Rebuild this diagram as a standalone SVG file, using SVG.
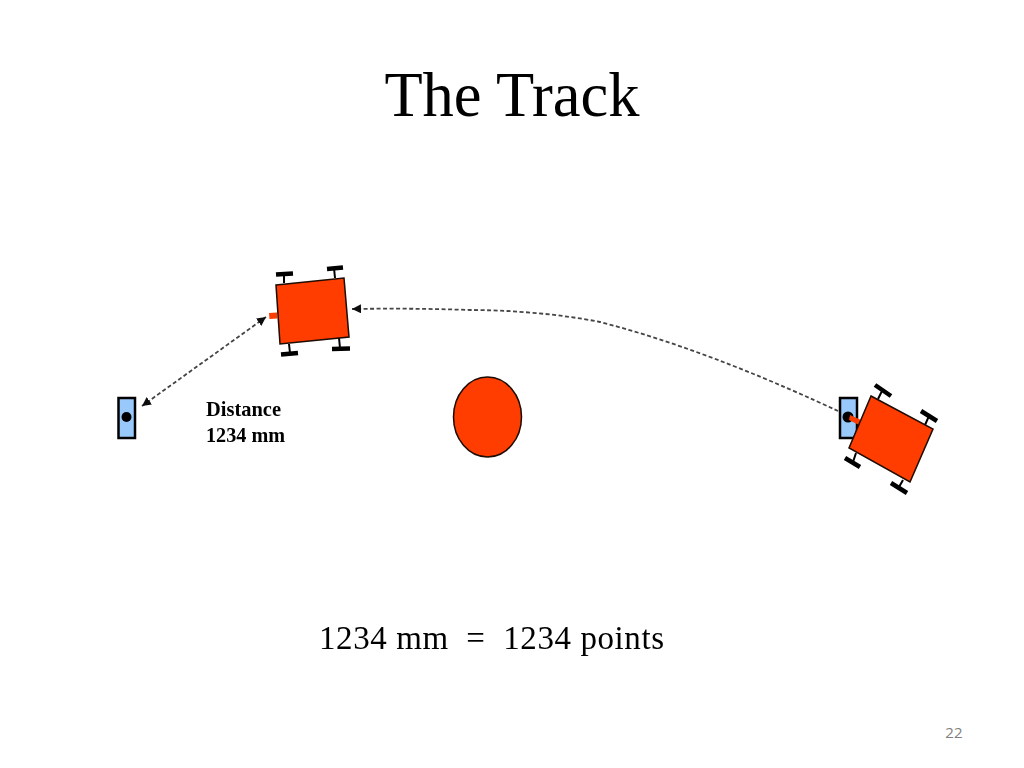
<svg xmlns="http://www.w3.org/2000/svg" width="1024" height="768" viewBox="0 0 1024 768">
<style>
.body{fill:#ff3c00;stroke:#1a0a00;stroke-width:1.5}
.nub{fill:#ff3c00}
.stem{stroke:#000;stroke-width:2;fill:none}
.bar{stroke:#000;stroke-width:4.5;fill:none}
.beacon{fill:#99c9fb;stroke:#000;stroke-width:2.5}
.dash{stroke:#444;stroke-width:1.8;stroke-dasharray:4 2.500;fill:none}
.serif{font-family:"Liberation Serif","Times New Roman",serif;fill:#000}
</style>
<defs>
<filter id="soft" x="-5%" y="-5%" width="110%" height="110%"><feGaussianBlur stdDeviation="0.5"/></filter>
<filter id="softtext" x="-5%" y="-20%" width="110%" height="140%"><feGaussianBlur stdDeviation="0.35"/></filter>
<marker id="tip" markerWidth="10" markerHeight="9" refX="9" refY="4.500" orient="auto-start-reverse" markerUnits="userSpaceOnUse"><path d="M0 0L9 4.500L0 9Z" fill="#111"/></marker>
</defs>
<rect width="1024" height="768" fill="#fff"/>
<text id="title" class="serif" x="512" y="116" font-size="62.500" text-anchor="middle">The Track</text>
<g filter="url(#soft)">
<g id="connectors">
<path class="dash" d="M266 317L142 406" marker-start="url(#tip)" marker-end="url(#tip)"/>
<path class="dash" d="M838 411C780 384 690 345 600 322C560 314 510 310 470 310Q410 308 352 309" marker-end="url(#tip)"/>
</g>
<g id="beacon-left">
<rect class="beacon" x="118.500" y="398" width="16.500" height="40"/>
<circle cx="126.500" cy="417" r="5" fill="#000"/>
</g>
<g id="robot-top">
<path class="nub" d="M269 313L277 312.500L277.500 318.500L269.500 319Z"/>
<path class="stem" d="M284 283L284 274M335 278L334 268M289 344L290 353M339 338L340 348"/>
<path class="bar" d="M276 274.500L293 273.500M327 269L343 267.500M281 354.500L298 353M332 349L350 348.500"/>
<path class="body" d="M276 285L344 278L349 337L280 344Z"/>
</g>
<g id="obstacle">
<ellipse cx="487.500" cy="417" rx="34" ry="40" class="body"/>
</g>
<g id="beacon-right">
<rect class="beacon" x="840" y="398" width="17" height="40"/>
<circle cx="848" cy="417" r="5.500" fill="#000"/>
</g>
<g id="robot-right">
<path class="nub" d="M850 415L861 420L859 425L849 420Z"/>
<path class="stem" d="M878 399L882 391M925 425L929 416M856 453L853 462M903 480L899 487"/>
<path class="bar" d="M875 385L891 396M921 411L937 421M845 458L860 467M891 483L907 493"/>
<path class="body" d="M871 396L933 429L910 482L849 448Z"/>
</g>
</g>
<g filter="url(#softtext)">
<text id="label-distance" class="serif" font-size="21" font-weight="bold" x="206" y="416" textLength="75" lengthAdjust="spacingAndGlyphs">Distance</text>
<text id="label-mm" class="serif" font-size="21" font-weight="bold" x="206" y="442" textLength="79" lengthAdjust="spacingAndGlyphs">1234 mm</text>
<text id="formula" class="serif" font-size="33" x="319" y="649" xml:space="preserve" textLength="345">1234 mm  =  1234 points</text>
</g>
<text id="page" x="962.500" y="738" font-size="15" text-anchor="end" fill="#808080" font-family="'Open Sans','Liberation Sans',sans-serif">22</text>
</svg>
